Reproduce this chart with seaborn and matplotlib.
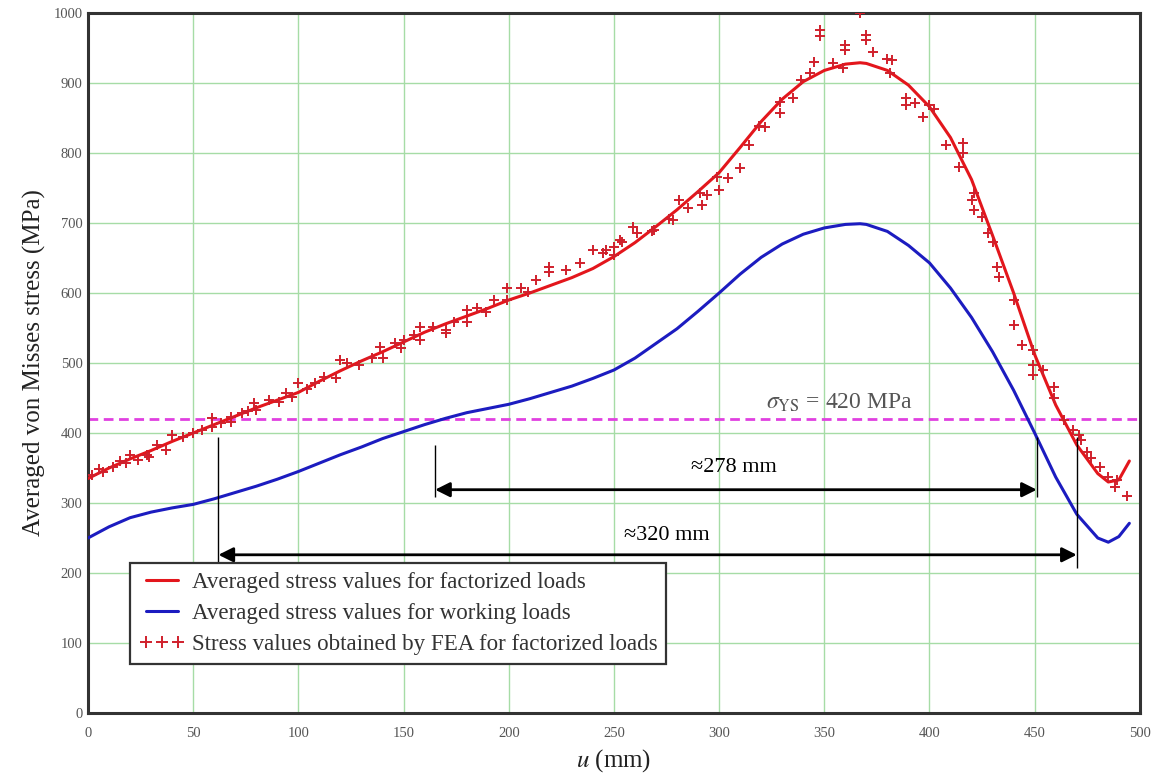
import matplotlib
matplotlib.use("Agg")
import matplotlib.pyplot as plt
from matplotlib.lines import Line2D
import seaborn as sns

# Averaged stress along u, factorized loads (MPa)
u_curve = [0, 10, 20, 30, 40, 50, 60, 70, 80, 90, 100, 110, 120, 130, 140, 150,
           160, 170, 180, 190, 200, 210, 220, 230, 240, 250, 260, 270, 280, 290,
           300, 310, 320, 330, 340, 350, 360, 367, 370, 380, 390, 400, 410, 420,
           430, 440, 450, 460, 470, 480, 485, 490, 495]
stress_factorized = [335, 350, 363, 375, 388, 400, 412, 424, 436, 447, 458, 474, 489,
                     503, 516, 530, 544, 556, 567, 578, 590, 600, 611, 622, 635, 652,
                     672, 695, 719, 745, 772, 808, 845, 877, 902, 918, 927, 929, 928,
                     918, 897, 866, 822, 762, 682, 600, 512, 440, 383, 342, 330, 333, 360]

# Averaged stress along u, working loads (MPa)
stress_working = [250, 266, 279, 287, 293, 298, 306, 315, 324, 334, 345, 357, 369,
                  380, 392, 402, 412, 421, 429, 435, 441, 449, 458, 467, 478, 490,
                  507, 528, 549, 574, 600, 627, 651, 670, 684, 693, 698, 699, 698,
                  688, 668, 643, 607, 565, 516, 461, 400, 337, 284, 250, 244, 252, 271]

# FEA stress samples, factorized loads
fea_u = [2, 5, 7, 12, 15, 18, 20, 24, 28, 29, 33, 37, 40, 45, 50, 54, 59, 59, 63, 68,
         68, 73, 76, 79, 80, 86, 91, 94, 97, 100, 104, 108, 112, 118, 120, 123, 129,
         135, 139, 140, 146, 149, 150, 155, 158, 158, 164, 170, 170, 174, 180, 180,
         185, 189, 193, 199, 199, 206, 209, 213, 219, 219, 227, 234, 240, 245, 246,
         250, 250, 253, 254, 259, 261, 268, 269, 276, 278, 281, 285, 291, 292, 294,
         299, 300, 304, 310, 314, 319, 322, 329, 329, 335, 339, 343, 345, 348, 348,
         354, 359, 360, 360, 367, 370, 370, 373, 380, 381, 382, 389, 389, 393, 397,
         400, 402, 408, 414, 416, 416, 420, 421, 421, 425, 428, 430, 432, 433, 440,
         440, 444, 449, 449, 449, 454, 459, 459, 464, 468, 471, 472, 475, 477, 481,
         485, 488, 489, 494]
fea_stress = [340, 348, 344, 352, 360, 357, 369, 362, 369, 366, 383, 376, 397, 394,
              400, 404, 421, 409, 414, 423, 416, 428, 432, 443, 433, 447, 444, 457,
              451, 471, 463, 471, 480, 478, 504, 500, 497, 507, 523, 507, 528, 521,
              533, 540, 533, 551, 551, 547, 543, 559, 576, 559, 579, 573, 590, 607,
              590, 607, 601, 619, 637, 630, 633, 643, 661, 657, 661, 666, 654, 676,
              673, 694, 686, 689, 690, 706, 704, 733, 721, 743, 726, 740, 766, 747,
              764, 778, 811, 839, 837, 873, 857, 879, 904, 915, 930, 976, 967, 928,
              922, 954, 947, 1000, 969, 962, 944, 934, 914, 933, 878, 869, 871, 851,
              869, 863, 811, 780, 814, 800, 733, 743, 719, 709, 686, 673, 637, 623,
              590, 554, 526, 519, 497, 483, 490, 466, 450, 419, 405, 397, 390, 373,
              364, 352, 337, 323, 333, 310]

yield_stress = 420
x_ticks = list(range(0, 501, 50))
y_ticks = list(range(0, 1001, 100))

# Spans where the averaged stress exceeds the yield stress
span_working = (165, 451)
span_factorized = (62, 470)
span_labels = ["\u2248278 mm", "\u2248320 mm"]

legend_labels = ["Averaged stress values for factorized loads",
                 "Averaged stress values for working loads",
                 "Stress values obtained by FEA for factorized loads"]

sns.set_theme(style="white")
plt.rcParams["font.family"] = ["Liberation Serif", "DejaVu Serif"]
plt.rcParams["mathtext.fontset"] = "stix"

RED = "#e3161c"
BLUE = "#1c1cc0"
FEA_RED = "#d0202c"
MAGENTA = "#e040e0"
GRID = "#a6dca6"

fig = plt.figure(figsize=(11.61, 7.76), dpi=100)
ax = fig.add_axes([0.0758, 0.0812, 0.906, 0.902])

ax.set_xlim(0, 500)
ax.set_ylim(0, 1000)
ax.set_xticks(x_ticks)
ax.set_yticks(y_ticks)
ax.grid(True, color=GRID, linewidth=1.0)
ax.set_axisbelow(True)

ax.axhline(yield_stress, color=MAGENTA, linestyle=(0, (3.5, 2.0)), linewidth=2.0, zorder=2)

sns.lineplot(x=u_curve, y=stress_working, color=BLUE, linewidth=2.2, ax=ax, zorder=3)
sns.lineplot(x=u_curve, y=stress_factorized, color=RED, linewidth=2.2, ax=ax, zorder=3)
sns.scatterplot(x=fea_u, y=fea_stress, marker="+", s=60, linewidth=1.4,
                color=FEA_RED, ax=ax, zorder=4, clip_on=True)

# Span dimension lines
ax.vlines(span_working[0], 309, 383, color="black", linewidth=1.0, zorder=5)
ax.vlines(span_working[1], 309, 394, color="black", linewidth=1.0, zorder=5)
ax.vlines(span_factorized[0], 204, 394, color="black", linewidth=1.0, zorder=5)
ax.vlines(span_factorized[1], 207, 394, color="black", linewidth=1.0, zorder=5)
arrow_style = dict(arrowstyle="<|-|>", color="black", lw=2.0, mutation_scale=22,
                   shrinkA=0, shrinkB=0)
ax.annotate("", xy=(span_working[1], 319), xytext=(span_working[0], 319),
            arrowprops=arrow_style, zorder=5)
ax.annotate("", xy=(span_factorized[1], 226), xytext=(span_factorized[0], 226),
            arrowprops=arrow_style, zorder=5)
ax.text(307, 351, span_labels[0], ha="center", va="center", fontsize=16,
        color="black", zorder=6)
ax.text(275, 254, span_labels[1], ha="center", va="center", fontsize=16,
        color="black", zorder=6)

ax.text(357, 443, r"$\sigma_{\mathrm{YS}}$ = 420 MPa", ha="center", va="center",
        fontsize=17, color="#555555", zorder=6)

for side in ["left", "right", "top", "bottom"]:
    ax.spines[side].set_visible(True)
    ax.spines[side].set_linewidth(2.2)
    ax.spines[side].set_color("#333333")

ax.tick_params(axis="both", which="both", length=2, width=1, color="#666666",
               labelsize=10.5, labelcolor="#555555")
ax.tick_params(axis="x", pad=8)
ax.tick_params(axis="y", pad=2)

ax.set_xlabel(r"$u$ (mm)", fontsize=18, color="#222222", labelpad=5)
ax.set_ylabel("Averaged von Misses stress (MPa)", fontsize=18, color="#222222",
              labelpad=5)

handles = [
    Line2D([], [], color=RED, linewidth=2.2),
    Line2D([], [], color=BLUE, linewidth=2.2),
    Line2D([], [], color=FEA_RED, marker="+", linestyle="none", markersize=8,
           markeredgewidth=1.4),
]
leg = ax.legend(handles, legend_labels, loc="upper left",
                bbox_to_anchor=(0.040, 0.214), numpoints=3, fontsize=16.6,
                frameon=True, fancybox=False, framealpha=1, edgecolor="#333333",
                handlelength=2.0, handletextpad=0.3, labelspacing=0.42,
                borderpad=0.38, borderaxespad=0)
leg.get_frame().set_linewidth(1.6)
for t in leg.get_texts():
    t.set_color("#333333")
leg.set_zorder(7)

fig.savefig("out.png", dpi=100)
